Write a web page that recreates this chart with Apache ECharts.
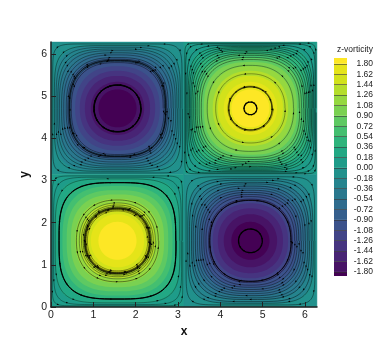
<!DOCTYPE html>
<html><head><meta charset="utf-8">
<style>html,body{margin:0;padding:0;background:#fff}#c{width:390px;height:347px}</style>
<script src="https://cdn.jsdelivr.net/npm/echarts@6/dist/echarts.min.js"></script>
</head><body><div id="c"></div>
<script>
// Colour of each band, low to high
const bandColors = ['#440154','#471365','#482475','#463480','#414487','#3b528b','#355f8d','#2f6c8e','#2a788e','#25848e','#21918c','#1e9c89','#22a884','#2fb47c','#44bf70','#5ec962','#7ad151','#95d840','#b5de2b','#d2e21b','#e5e419','#fde725'];
const colorbarTicks = [-1.80,-1.62,-1.44,-1.26,-1.08,-0.90,-0.72,-0.54,-0.36,-0.18,0,0.18,0.36,0.54,0.72,0.90,1.08,1.26,1.44,1.62,1.80];
const xTicks = [0,1,2,3,4,5,6];
const yTicks = [0,1,2,3,4,5,6];
// Vortex cells: centre and sign of the vorticity
const cellX = [1.57,4.71,1.57,4.71];
const cellY = [4.71,4.71,1.57,1.57];
const cellSign = [-1,1,1,-1];
// |level| of each contour, its half width on the axis and its half extent on the diagonal
const contourLevels = [0.18,0.36,0.54,0.72,0.90,1.08,1.26,1.44,1.62,1.80];
const contourAxis = [1.48,1.39,1.30,1.20,1.10,1.00,0.89,0.77,0.63,0.45];
const contourDiag = [1.27,1.13,1.02,0.93,0.84,0.74,0.65,0.56,0.45,0.32];
// Streamline loops per cell: half width, line weight, drift over the turns
const streamTL = [[0.55,1,.01],[0.56,.6,.01],[1.09,.4,.02],[1.12,.5,.02],[1.14,.6,.015],[1.17,.45,.02],[1.21,.4,.02],[1.27,.35,.01],[1.32,.4,.01],[1.37,.35,.01],[1.41,.4,.01],[1.45,.35,.01],[1.49,.4,.01],[1.53,.4,.01]];
const streamTR = [[0.15,1.2,.005],[0.51,.6,.01],[0.53,.4,.015],[0.82,.35,.005],[1.02,.35,.005],[1.16,.4,.01],[1.21,.4,.01],[1.26,.45,.01],[1.30,.5,.01],[1.34,.45,.01],[1.38,.5,.01],[1.41,.45,.01],[1.44,.5,.01],[1.47,.45,.01],[1.50,.5,.01],[1.53,.45,.005],[1.55,.4,.005]];
const streamBL = [[0.71,.4,.01],[0.74,.5,.015],[0.76,.6,.015],[0.78,.6,.015],[0.81,.5,.015],[0.85,.4,.01],[0.90,.35,.01],[0.97,.45,.01],[1.38,1,.01],[1.47,.35,.01],[1.51,.35,.01],[1.54,.35,.005]];
const streamBR = [[0.28,1.2,.005],[0.96,.7,.01],[0.99,.4,.01],[1.05,.4,.01],[1.10,.4,.01],[1.15,.45,.015],[1.20,.4,.01],[1.25,.35,.01],[1.30,.45,.01],[1.35,.4,.01],[1.39,.45,.01],[1.44,.45,.01],[1.48,.4,.01],[1.52,.4,.005]];
const streamTables = [streamTL,streamTR,streamBL,streamBR];
// Where the arrowheads sit along each loop, as fractions of a turn
const arrowSpots = [0.02,0.09,0.16,0.23,0.31,0.38,0.44,0.51,0.58,0.65,0.72,0.79,0.86,0.93];

const axisInk = '#222';
const textInk = '#222';
const uiFont = '"Liberation Sans",Arial,sans-serif';

function diagFor(a){
  if(a>=contourAxis[0]) return contourDiag[0]+(a-contourAxis[0])*(1.57-contourDiag[0])/(1.57-contourAxis[0]);
  for(let i=1;i<contourAxis.length;i++){
    if(a>=contourAxis[i]){
      const f=(a-contourAxis[i])/(contourAxis[i-1]-contourAxis[i]);
      return contourDiag[i]+f*(contourDiag[i-1]-contourDiag[i]);
    }
  }
  return a*0.71;
}
function loopPoint(a,t,u){
  const ang=u*Math.PI*2, c=Math.cos(ang), s=Math.sin(ang);
  const p=Math.LN2/Math.log(a/t);
  const e=2/p;
  return [Math.sign(c)*a*Math.pow(Math.abs(c),e),Math.sign(s)*a*Math.pow(Math.abs(s),e)];
}
function loopPoints(api,cx,cy,a,t,n){
  const pts=[];
  for(let i=0;i<n;i++){
    const q=loopPoint(a,t,i/n);
    pts.push(api.coord([cx+q[0],cy+q[1]]));
  }
  return pts;
}

// Filled bands: one row per polygon
const bandRows=[];
cellX.forEach((cx,k)=>{
  const sign=cellSign[k];
  contourLevels.forEach((lev,i)=>{
    const idx=sign>0?12+i:9-i;
    bandRows.push([cx,cellY[k],contourAxis[i],contourDiag[i],idx]);
  });
});
const baseRows=[];
cellX.forEach((cx,k)=>{baseRows.push([cx,cellY[k],cellSign[k]>0?11:10]);});
const streamRows=[];
streamTables.forEach((tbl,k)=>{
  tbl.forEach((row,j)=>{streamRows.push([cellX[k],cellY[k],row[0],row[1],cellSign[k],j,row[2]]);});
});
// Colour bar rows: lower and upper edge of each band
const barEdges=[-1.87].concat(colorbarTicks,[1.90]);
const barRows=bandColors.map((c,i)=>[barEdges[i],barEdges[i+1],i]);

const chart=echarts.init(document.getElementById('c'),null,{renderer:'canvas'});
chart.setOption({
  animation:false,
  backgroundColor:'#fff',
  title:{text:'z-vorticity',left:332,top:40,textStyle:{fontFamily:uiFont,fontSize:8.5,fontWeight:'normal',color:textInk}},
  grid:[
    {left:51,top:42,width:266,height:265},
    {left:334,top:58,width:13,height:218}
  ],
  xAxis:[
    {gridIndex:0,type:'value',min:0,max:6.283,name:'x',nameLocation:'middle',nameGap:15,z:5,
     nameTextStyle:{fontFamily:uiFont,fontSize:12,fontWeight:'bold',color:'#111'},
     splitLine:{show:false},axisLine:{onZero:false,lineStyle:{color:axisInk,width:1.5}},
     axisTick:{customValues:xTicks,inside:true,length:5,lineStyle:{color:axisInk,width:1}},
     axisLabel:{customValues:xTicks,margin:3,fontFamily:uiFont,fontSize:10.5,color:textInk,formatter:v=>String(v)}},
    {gridIndex:1,type:'value',min:0,max:1,show:false}
  ],
  yAxis:[
    {gridIndex:0,type:'value',min:0,max:6.283,name:'y',nameLocation:'middle',nameGap:20,z:5,
     nameTextStyle:{fontFamily:uiFont,fontSize:12,fontWeight:'bold',color:'#111'},
     splitLine:{show:false},axisLine:{onZero:false,lineStyle:{color:axisInk,width:1.5}},
     axisTick:{customValues:yTicks,inside:true,length:5,lineStyle:{color:axisInk,width:1}},
     axisLabel:{customValues:yTicks,margin:4,fontFamily:uiFont,fontSize:10.5,color:textInk,formatter:v=>String(v)}},
    {gridIndex:1,type:'value',min:-1.87,max:1.90,position:'right',z:5,
     splitLine:{show:false},axisLine:{show:false,onZero:false},
     axisTick:{customValues:colorbarTicks,inside:true,length:13,lineStyle:{color:'#333',width:.6}},
     axisLabel:{customValues:colorbarTicks,inside:false,align:'right',margin:26,fontFamily:uiFont,fontSize:8.5,color:textInk,formatter:v=>v.toFixed(2)}}
  ],
  series:[
    {type:'custom',xAxisIndex:0,yAxisIndex:0,z:1,encode:{x:0,y:1},data:baseRows,silent:true,
     renderItem(p,api){
       const cx=api.value(0),cy=api.value(1);
       const w=1.5708;
       const pts=[[cx-w,cy-w],[cx+w,cy-w],[cx+w,cy+w],[cx-w,cy+w]].map(q=>api.coord(q));
       return {type:'polygon',shape:{points:pts},style:{fill:bandColors[api.value(2)],stroke:bandColors[api.value(2)],lineWidth:.5}};
     }},
    {type:'custom',xAxisIndex:0,yAxisIndex:0,z:2,encode:{x:0,y:1},data:bandRows,silent:true,
     renderItem(p,api){
       const pts=loopPoints(api,api.value(0),api.value(1),api.value(2),api.value(3),90);
       return {type:'polygon',shape:{points:pts},style:{fill:bandColors[api.value(4)]}};
     }},
    {type:'custom',xAxisIndex:0,yAxisIndex:0,z:3,encode:{x:0,y:1},data:streamRows,silent:true,
     renderItem(p,api){
       const cx=api.value(0),cy=api.value(1),a=api.value(2),w=api.value(3),sign=api.value(4),j=api.value(5),drift=api.value(6);
       const pts=[];
       const turns=w>=.6?2:1;
       const steps=110*turns;
       for(let i=0;i<=steps;i++){
         const u=i/110, r=a+drift*(u/turns-0.5);
         const q=loopPoint(r,diagFor(r),u);
         pts.push(api.coord([cx+q[0],cy+q[1]]));
       }
       const kids=[{type:'polyline',shape:{points:pts},style:{fill:'none',stroke:'#000',lineWidth:w}}];
       const every=w>=.45?1:2;
       const t=diagFor(a);
       arrowSpots.forEach((u0,n)=>{
         if(n%every!==0) return;
         const u=(u0+j*0.137)%1;
         const q0=loopPoint(a,t,u),q1=loopPoint(a,t,u+0.01);
         const A=api.coord([cx+q0[0],cy+q0[1]]),B=api.coord([cx+q1[0],cy+q1[1]]);
         let dx=B[0]-A[0],dy=B[1]-A[1];
         const L=Math.hypot(dx,dy)||1;dx=dx/L*sign;dy=dy/L*sign;
         const s=1.1;
         kids.push({type:'polygon',shape:{points:[
           [A[0]+dx*s,A[1]+dy*s],[A[0]-dx*s-dy*s*.75,A[1]-dy*s+dx*s*.75],[A[0]-dx*s+dy*s*.75,A[1]-dy*s-dx*s*.75]
         ]},style:{fill:'#000'}});
       });
       return {type:'group',children:kids};
     }},
    {type:'custom',xAxisIndex:1,yAxisIndex:1,encode:{y:[0,1]},data:barRows,silent:true,z:2,
     renderItem(p,api){
       const a=api.coord([0,api.value(0)]),b=api.coord([1,api.value(1)]);
       return {type:'rect',shape:{x:a[0],y:b[1],width:b[0]-a[0],height:a[1]-b[1]},style:{fill:bandColors[api.value(2)]}};
     }}
  ]
});
</script></body></html>
